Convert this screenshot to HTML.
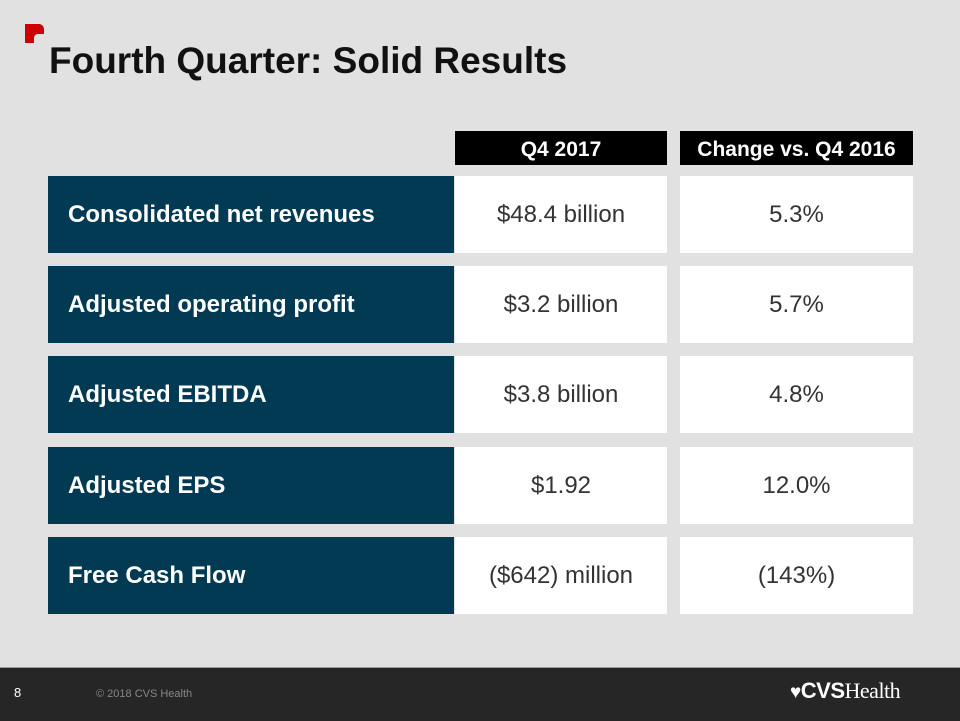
<!DOCTYPE html>
<html><head><meta charset="utf-8"><style>
body{margin:0;width:960px;height:720px;background:#e1e1e1;position:relative;overflow:hidden;font-family:"Liberation Sans",Arial,sans-serif}
.a{position:absolute}
.hd{background:#000;color:#fff;font-weight:bold;font-size:21px;text-align:center;line-height:38px;top:131px;height:34px}
.lab{background:#023a54;color:#fff;font-weight:bold;font-size:24px;left:48px;width:406px;height:77px;line-height:78px;padding-left:20px;box-sizing:border-box}
.v{background:#fff;color:#333;font-size:24px;text-align:center;height:77px;line-height:78px}
</style></head><body>
<div class="a" style="left:25px;top:24px;width:19px;height:19px;background:#cc0000;border-radius:0 5px 5px 0"></div>
<div class="a" style="left:34px;top:34px;width:10px;height:9px;background:#e1e1e1;border-radius:4px 0 0 0"></div>
<div class="a" style="left:49px;top:40px;font-size:37px;font-weight:bold;color:#111">Fourth Quarter: Solid Results</div>
<div class="a hd" style="left:455px;width:212px">Q4 2017</div>
<div class="a hd" style="left:680px;width:233px">Change vs. Q4 2016</div>
<div id="rows"></div>
<div class="a" style="left:0;top:667px;width:960px;height:53px;background:#262626;border-top:1px solid #999"></div>
<div class="a" style="left:14px;top:685px;color:#fff;font-size:13px">8</div>
<div class="a" style="left:96px;top:688px;color:#888;font-size:11px">© 2018 CVS Health</div>
<div class="a" style="left:790px;top:678px;color:#fff;font-size:22px;letter-spacing:-0.5px"><span style="font-size:19px">♥</span><b>CVS</b><span style="font-family:'Liberation Serif',serif">Health</span></div>
<script>
const labels=["Consolidated net revenues","Adjusted operating profit","Adjusted EBITDA","Adjusted EPS","Free Cash Flow"];
const q4=["$48.4 billion","$3.2 billion","$3.8 billion","$1.92","($642) million"];
const change=["5.3%","5.7%","4.8%","12.0%","(143%)"];
const tops=[176,266,356,447,537];
const root=document.getElementById('rows');
labels.forEach((l,i)=>{
 const t=tops[i];
 const a=document.createElement('div');a.className='a lab';a.style.top=t+'px';a.textContent=l;
 
 
 const b=document.createElement('div');b.className='a v';b.style.cssText=`top:${t}px;left:455px;width:212px`;b.textContent=q4[i];
 
 
 const c=document.createElement('div');c.className='a v';c.style.cssText=`top:${t}px;left:680px;width:233px`;c.textContent=change[i];
 
 
 root.append(a,b,c);
});
</script>
</body></html>
